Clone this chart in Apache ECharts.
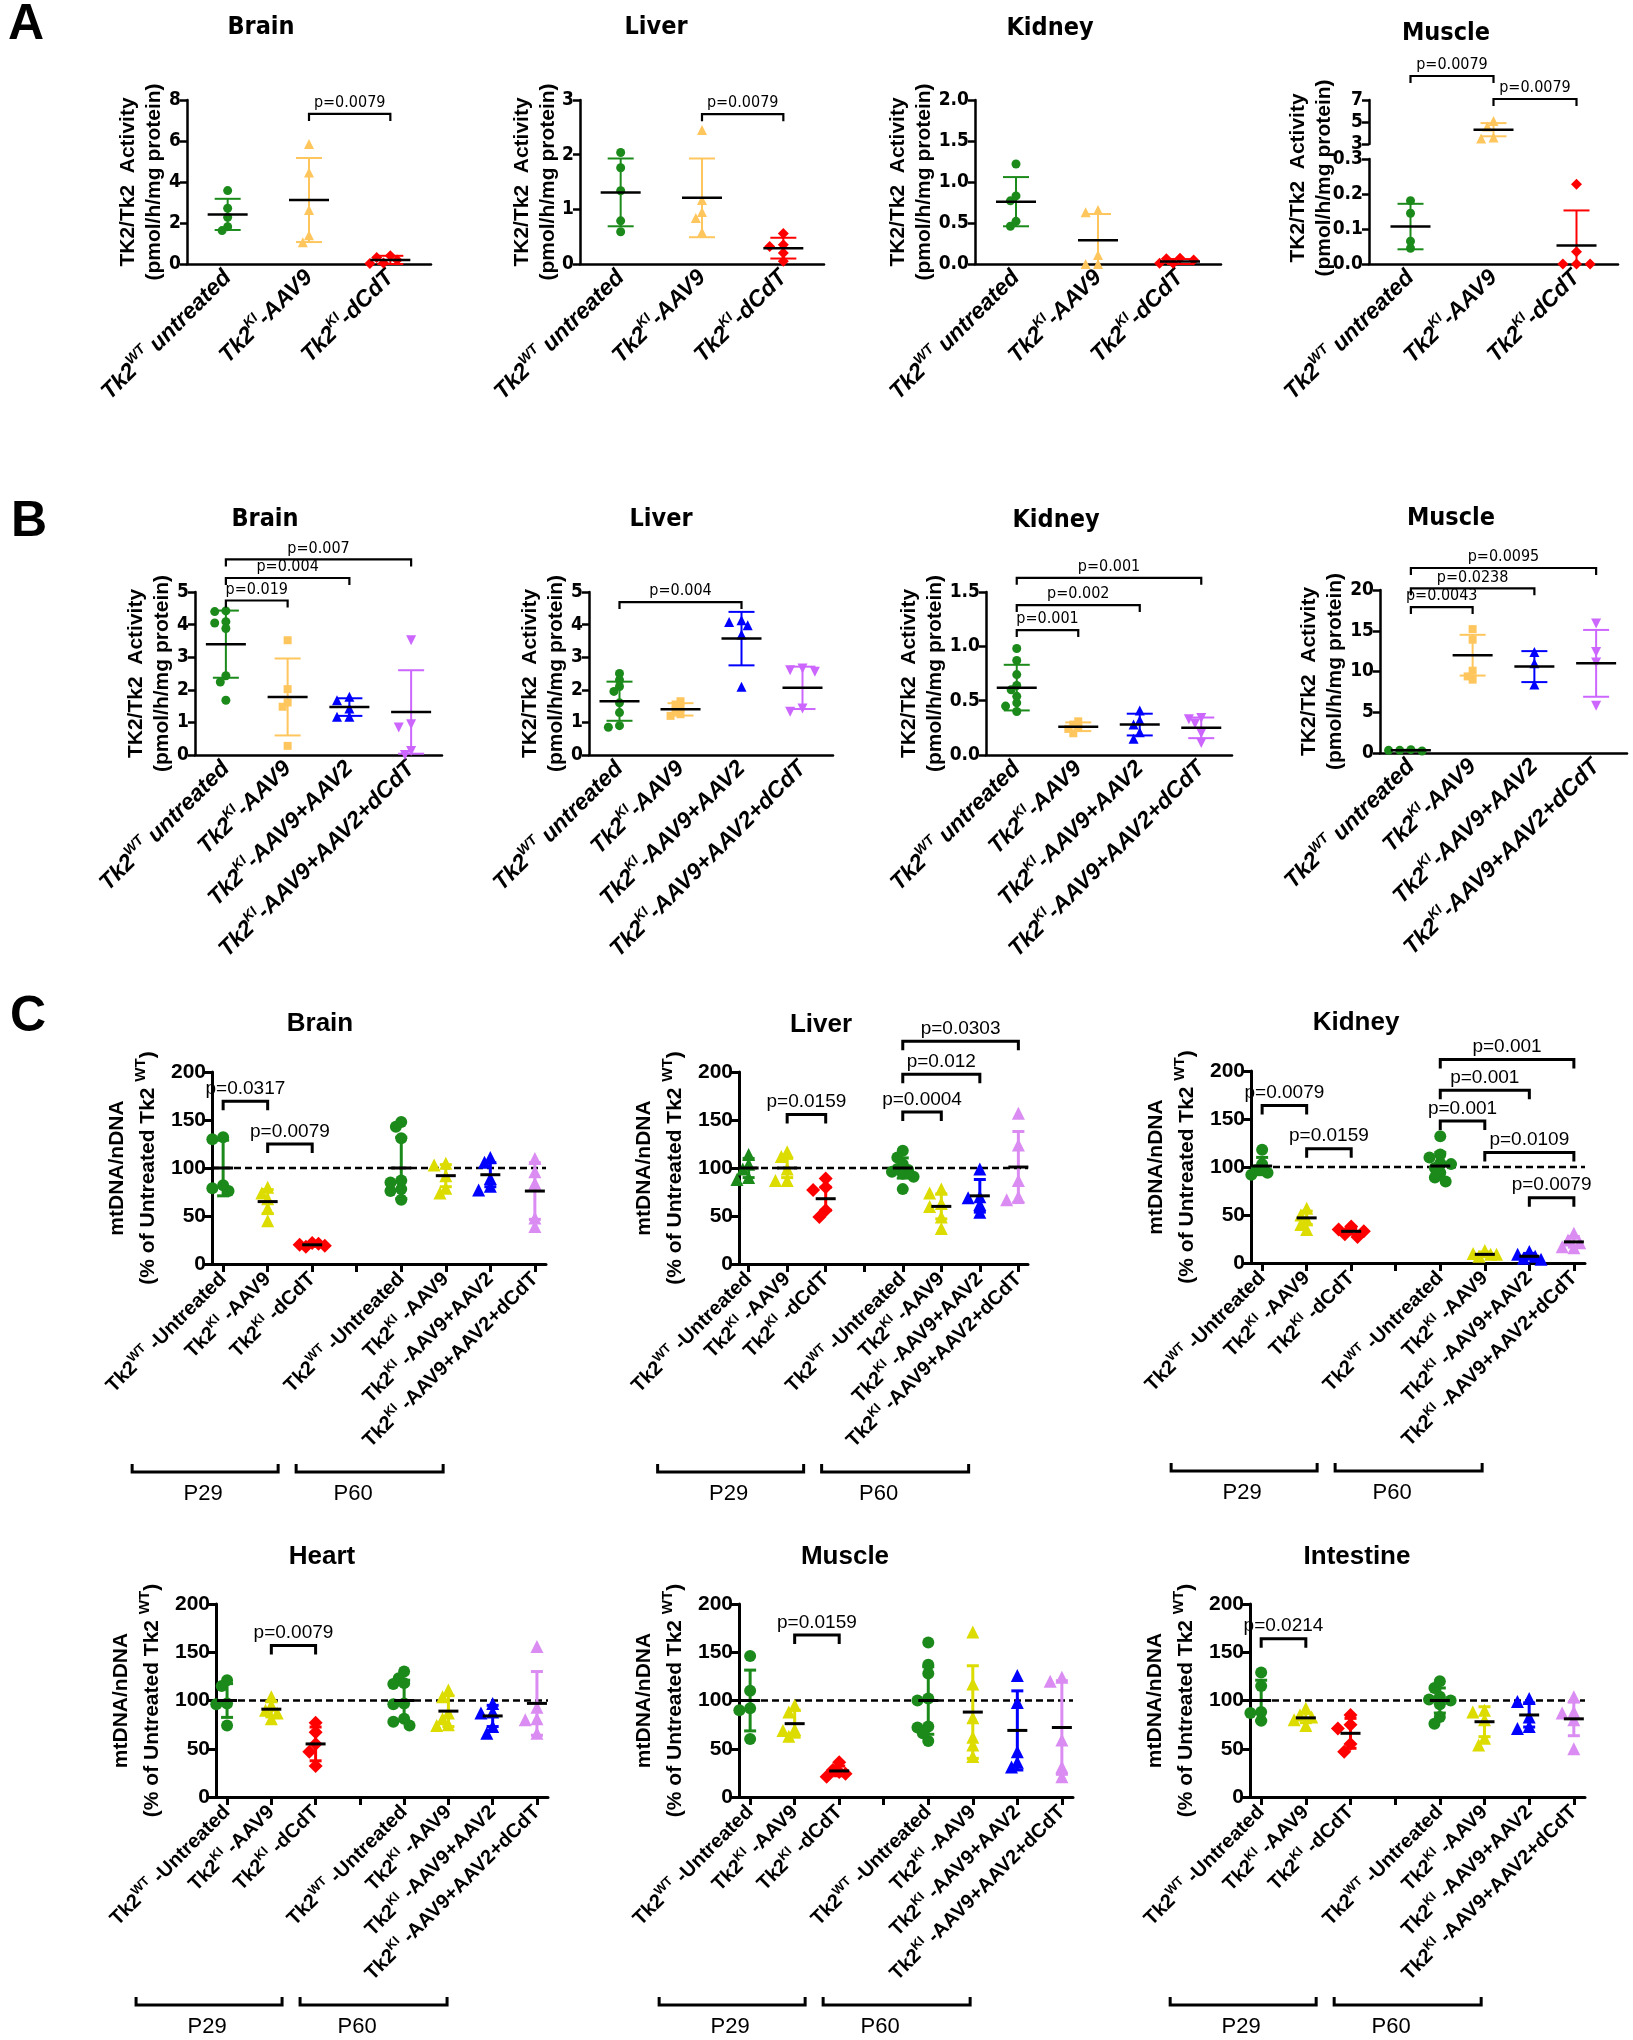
<!DOCTYPE html>
<html><head><meta charset="utf-8">
<script src="https://cdn.jsdelivr.net/npm/echarts@6/dist/echarts.min.js"></script>
<style>html,body{margin:0;padding:0;background:#fff}#c{width:1633px;height:2040px}</style>
</head><body><div id="c"></div>
<script>
// ---------------- DATA ----------------
const catA = [['Tk2','WT',' untreated'],['Tk2','KI','-AAV9'],['Tk2','KI','-dCdT']];
const catB = [['Tk2','WT',' untreated'],['Tk2','KI','-AAV9'],['Tk2','KI','-AAV9+AAV2'],['Tk2','KI','-AAV9+AAV2+dCdT']];
const catC = [['Tk2','WT',' -Untreated'],['Tk2','KI',' -AAV9'],['Tk2','KI',' -dCdT'],null,
              ['Tk2','WT',' -Untreated'],['Tk2','KI',' -AAV9'],['Tk2','KI',' -AAV9+AAV2'],['Tk2','KI',' -AAV9+AAV2+dCdT']];
const titlesA = ['Brain','Liver','Kidney','Muscle'];
const titlesB = ['Brain','Liver','Kidney','Muscle'];
const titlesC = ['Brain','Liver','Kidney','Heart','Muscle','Intestine'];
const panelLetters = ['A','B','C'];
const periodLabels = ['P29','P60'];
const refLevelC = 100;

// Panel A : TK2 activity
const aBrainPts = [[3.58,2.72,2.28,1.82,1.63],[5.85,4.46,2.63,1.40,1.06],[0.40,0.32,0.20,0.05,0.03]];
const aBrainMean = [2.42,3.12,0.20], aBrainSD = [0.76,2.05,0.20];
const aBrainP = [[1,2,7.32,'p=0.0079']];
const aLiverPts = [[2.04,1.76,1.34,0.79,0.59],[2.45,1.17,0.95,0.84,0.58],[0.56,0.35,0.32,0.20,0.05]];
const aLiverMean = [1.31,1.21,0.29], aLiverSD = [0.62,0.72,0.19];
const aLiverP = [[1,2,2.74,'p=0.0079']];
const aKidneyPts = [[1.22,0.83,0.77,0.52,0.46],[0.66,0.63,0.11,0.0,0.0],[0.07,0.065,0.05,0.01,0.01]];
const aKidneyMean = [0.76,0.29,0.03], aKidneySD = [0.30,0.32,0.03];
const aMusclePts = [[0.181,0.145,0.065,0.045],[5.1,4.6,3.6,3.5],[0.228,0.035,0,0,0]];
const aMuscleMean = [0.107,4.3,0.053], aMuscleSD = [0.065,0.6,0.10];
const aMuscleP = [[0,1,9.18,'p=0.0079'],[1,2,7.09,'p=0.0079']];

// Panel B : TK2 activity
const bBrainPts = [[4.42,4.40,4.09,4.05,3.88,2.43,2.24,1.68],[3.52,2.02,1.61,1.48,0.28],[1.79,1.68,1.43,1.17,1.17],[3.52,0.94,0.84,0.12,0.0]];
const bBrainMean = [3.40,1.78,1.47,1.32], bBrainSD = [1.03,1.18,0.27,1.28];
const bBrainP = [[0,1,4.74,'p=0.019'],[0,2,5.43,'p=0.004'],[0,3,6.0,'p=0.007']];
const bLiverPts = [[2.5,2.3,2.1,1.95,1.6,1.3,0.9,0.85],[1.65,1.55,1.45,1.35,1.25,1.2],[4.13,4.08,3.98,3.7,2.09],[2.65,2.6,2.55,1.43,1.33]];
const bLiverMean = [1.65,1.40,3.57,2.06], bLiverSD = [0.60,0.19,0.82,0.65];
const bLiverP = [[0,2,4.69,'p=0.004']];
const bKidneyPts = [[0.98,0.87,0.74,0.64,0.60,0.54,0.48,0.45,0.40],[0.31,0.28,0.25,0.24,0.20],[0.41,0.32,0.28,0.21,0.15],[0.34,0.33,0.29,0.20,0.11]];
const bKidneyMean = [0.62,0.26,0.28,0.25], bKidneySD = [0.21,0.04,0.10,0.095];
const bKidneyP = [[0,1,1.15,'p=0.001'],[0,2,1.38,'p=0.002'],[0,3,1.63,'p=0.001']];
const bMusclePts = [[0.41,0.33,0.25,0.33],[15.2,13.9,10.1,9.4,9.0],[12.4,11.0,8.4],[15.9,12.4,11.1,5.8]];
const bMuscleMean = [0.33,12.0,10.6,11.0], bMuscleSD = [0.07,2.5,1.9,4.1];
const bMuscleP = [[0,1,17.9,'p=0.0043'],[0,2,20.2,'p=0.0238'],[0,3,22.7,'p=0.0095']];

// Panel C : mtDNA / nDNA (% of untreated Tk2 WT)
const cBrainPts = [[132,130,82,79,76],[80,74,68,58,45],[22,20,19,18,21],[],[148,143,131,87,85,78,76,67],[105,103,92,79,74],[111,106,89,81,77],[110,96,84,48,39]];
const cBrainMean = [100,65,20,null,100,92,93,76], cBrainSD = [29,12.5,1.5,null,32,11.5,12.5,29.5];
const cBrainP = [[0,1,169.5,'p=0.0317'],[1,2,125,'p=0.0079']];
const cLiverPts = [[114,104,99,90,88],[117,112,99,87,87],[89,80,77,56,49],[],[118,111,104,99,98,96,94,91,78],[78,74,63,60,49,37],[99,70,69,62,54],[157,124,87,70,67]];
const cLiverMean = [100,100,68,null,100,60,71,101], cLiverSD = [10,10,12,null,10.5,13,17,37];
const cLiverP = [[1,2,155.6,'p=0.0159'],[4,5,158.4,'p=0.0004'],[4,6,197.6,'p=0.012'],[4,7,232,'p=0.0303']];
const cKidneyPts = [[118,103,97,94,92],[57,50,45,40,35],[38,35,33,30,27],[],[132,113,110,104,103,99,94,89,85],[13,10,9,7,9],[12,9,7,5,4],[31,24,21,17,16]];
const cKidneyMean = [101,47,33,null,101,9,7,22], cKidneySD = [9,7,3,null,14,2.5,3,5.5];
const cKidneyP = [[0,1,164,'p=0.0079'],[1,2,119,'p=0.0159'],[4,5,148,'p=0.001'],[4,6,180,'p=0.001'],[4,7,212,'p=0.001'],[5,7,115,'p=0.0109'],[6,7,68,'p=0.0079']];
const cHeartPts = [[121,115,97,96,74],[104,95,90,87,81],[77,67,55,47,32],[],[130,123,118,117,97,96,81,78,74],[111,104,87,81,75,74],[97,88,87,73,66],[156,93,81,80,66]];
const cHeartMean = [100,91,55,null,100,89,84,97], cHeartSD = [17.5,8,17.5,null,21,16,11,33];
const cHeartP = [[1,2,157,'p=0.0079']];
const cMusclePts = [[146,110,92,90,60],[95,88,70,69,63],[36,28,24,21,26],[],[160,137,128,102,100,73,72,66,58],[171,117,82,62,54,42],[126,98,47,36,31],[124,120,59,31,21]];
const cMuscleMean = [100,76,27,null,100,88,69,72], cMuscleSD = [31.5,14,5,null,35,48,41,48.5];
const cMuscleP = [[1,2,168,'p=0.0159']];
const cIntestinePts = [[129,115,88,87,79],[92,85,83,80,74],[85,75,71,55,47],[],[120,113,104,101,100,96,83,76],[90,88,80,61,54],[102,99,83,73,71],[104,88,87,80,50]];
const cIntestineMean = [100,82,66,null,100,78,85,81], cIntestineSD = [21,5,15.5,null,13,15.5,12.5,17.5];
const cIntestineP = [[0,1,164,'p=0.0214']];

// ---------------- STYLE ----------------
const ARIAL = '"Liberation Sans", Arial, Helvetica, sans-serif';
const NARROW = '"Liberation Sans Narrow", "Arial Narrow", "DejaVu Sans Condensed", "Liberation Sans", Arial, sans-serif';
const GR = '#1B8A1B', OR = '#FFC65E', RD = '#FF0000', BL = '#0000FF', VI = '#CC66FF', YC = '#DCDC00', VC = '#DA8CF2';
const stA = [{c:GR,s:'circle',z:9},{c:OR,s:'triangle',z:10},{c:RD,s:'diamond',z:11}];
const stB = [{c:GR,s:'circle',z:9},{c:OR,s:'rect',z:8},{c:BL,s:'triangle',z:10},{c:VI,s:'triangle',z:10,r:180}];
const stC = [{c:GR,s:'circle',z:12},{c:YC,s:'triangle',z:13},{c:RD,s:'diamond',z:14},null,
             {c:GR,s:'circle',z:12},{c:YC,s:'triangle',z:13},{c:BL,s:'triangle',z:13},{c:VC,s:'triangle',z:13}];
const stCliver = stC.map((s,i)=> i===0 ? {c:GR,s:'triangle',z:13} : s);

function richSet(fs, weight, style, family, lh, supScale) {
  lh = lh || Math.round(fs * 1.3);
  return {
    b: {fontSize: fs, fontWeight: weight, fontStyle: style, fontFamily: family, color: '#000', fill:'#000', lineHeight: lh},
    s: {fontSize: Math.round(fs * (supScale || 0.62)), fontWeight: weight, fontStyle: style, fontFamily: family, color: '#000', fill:'#000', verticalAlign: 'top'}
  };
}
function lab(parts) { return parts ? '{b|' + parts[0] + '}{s|' + parts[1] + '}{b|' + parts[2] + '}' : ''; }
const nameAB = '{b|TK2/Tk2  Activity}\n{b|(pmol/h/mg protein)}';
const nameC = '{b|mtDNA/nDNA}\n{b|(% of Untreated Tk2 }{s|WT}{b|)}';

// simple beeswarm-like horizontal dodge of overlapping points (pixel offsets)
function dodge(vals, ppu, size, tight) {
  const step = size * (tight ? 0.45 : 0.62), minD = size * (tight ? 0.58 : 0.72);
  const nC = tight ? 5 : 11;
  const placed = [], offs = [];
  vals.forEach((v, i) => {
    const y = v * ppu;
    let best = 0, bestD = -1;
    for (let k = 0; k < nC; k++) {
      const dx = (k % 2 ? -1 : 1) * Math.ceil(k / 2) * step;
      const d = placed.length ? Math.min(...placed.map(q => Math.hypot(q[0] - dx, q[1] - y))) : Infinity;
      if (d >= minD) { best = dx; bestD = Infinity; break; }
      if (d > bestD) { bestD = d; best = dx; }
    }
    offs[i] = best; placed.push([best, y]);
  });
  return offs;
}

const option = {animation:false, backgroundColor:'#fff', grid:[], xAxis:[], yAxis:[], series:[], graphic:[]};

function addPanel(p) {
  const gi = option.grid.length;
  const C = p.kind === 'C';
  const lw = C ? 3 : 2.5;
  option.grid.push({left:p.left, top:p.top, width:p.width, height:p.height});
  const xRich = C ? richSet(20, 'bold', 'normal', ARIAL, null, 0.66) : richSet(23, 'bold', 'italic', ARIAL);
  const idx = p.cats.map((_, i) => i);
  if (C) {
    option.xAxis.push({type:'value', gridIndex:gi, min:-0.25, max:p.cats.length - 0.75,
      axisLine:{show:true, onZero:false, lineStyle:{color:'#000', width:lw}},
      axisTick:{show:true, customValues:idx, length:8, lineStyle:{color:'#000', width:lw}},
      axisLabel:{show:true, customValues:idx, formatter:v => lab(p.cats[Math.round(v)]), rotate:45, margin:12, rich:xRich},
      splitLine:{show:false}});
  } else {
    option.xAxis.push({type:'category', gridIndex:gi, data:p.cats.map(lab), boundaryGap:true, show:p.showX !== false,
      axisLine:{onZero:false, lineStyle:{color:'#000', width:lw}},
      axisTick:{alignWithLabel:true, length:7, lineStyle:{color:'#000', width:lw}},
      axisLabel:{interval:0, rotate:45, margin:10, rich:xRich}});
  }
  const y = {type:'value', gridIndex:gi, min:p.ymin, max:p.ymax,
    axisLine:{show:true, onZero:false, lineStyle:{color:'#000', width:lw}},
    axisTick:{show:true, length:C ? 8 : 7, lineStyle:{color:'#000', width:lw}},
    axisLabel:{color:'#000', margin:6, fontWeight:'bold', fontSize:C ? 21 : 19, fontFamily:C ? ARIAL : NARROW,
               formatter:p.yfmt || (v => String(v))},
    splitLine:{show:false}};
  if (p.yint != null) y.interval = p.yint;
  if (p.yTicks) { y.axisTick.customValues = p.yTicks; y.axisLabel.customValues = p.yTicks; }
  if (p.yName) {
    y.name = p.yName; y.nameLocation = 'middle'; y.nameRotate = 90; y.nameGap = p.nameGap;
    y.nameTextStyle = {rich: C ? richSet(21, 'bold', 'normal', ARIAL, 31, 0.7) : richSet(21, 'bold', 'normal', ARIAL, 26)};
  }
  option.yAxis.push(y);

  const inR = v => v != null && v >= p.ymin - 1e-9 && v <= p.ymax + 1e-9;
  const ppu = p.height / (p.ymax - p.ymin);
  p.pts.forEach((vals, k) => {
    const st = p.styles[k];
    if (!st || !vals) return;
    const vv = vals.filter(inR);
    if (!vv.length) return;
    const offs = dodge(vv, ppu, st.z, C);
    option.series.push({type:'scatter', xAxisIndex:gi, yAxisIndex:gi, clip:false, z:3,
      symbol:st.s, symbolSize:st.z, symbolRotate:st.r || 0, itemStyle:{color:st.c, opacity:1},
      data:vv.map((v, j) => ({value:[k, v], symbolOffset:[offs[j], 0]}))});
  });

  const eb = [];
  p.mean.forEach((m, k) => { if (inR(m)) eb.push([k, m, p.sd[k]]); });
  option.series.push({type:'custom', xAxisIndex:gi, yAxisIndex:gi, clip:false, z:4, data:eb,
    renderItem:(params, api) => {
      const k = api.value(0), m = api.value(1), sd = api.value(2);
      const col = p.styles[k].c;
      const c = api.coord([k, m]);
      const hiV = m + sd, loV = m - sd;
      const hi = api.coord([k, Math.min(hiV, p.ymax)]);
      const lo = api.coord([k, Math.max(loV, p.ymin)]);
      const mw = C ? 10 : 20, cw = C ? 6 : 13, w = C ? 3 : 2;
      const ch = [{type:'line', shape:{x1:c[0], y1:hi[1], x2:c[0], y2:lo[1]}, style:{stroke:col, lineWidth:w}}];
      if (hiV <= p.ymax) ch.push({type:'line', shape:{x1:c[0]-cw, y1:hi[1], x2:c[0]+cw, y2:hi[1]}, style:{stroke:col, lineWidth:w}});
      if (loV >= p.ymin) ch.push({type:'line', shape:{x1:c[0]-cw, y1:lo[1], x2:c[0]+cw, y2:lo[1]}, style:{stroke:col, lineWidth:w}});
      ch.push({type:'line', shape:{x1:c[0]-mw, y1:c[1], x2:c[0]+mw, y2:c[1]}, style:{stroke:'#000', lineWidth:C ? 3 : 2.5}});
      return {type:'group', children:ch};
    }});

  if (p.pv && p.pv.length) option.series.push({type:'custom', xAxisIndex:gi, yAxisIndex:gi, clip:false, z:5,
    data:p.pv.map(q => [q[0], q[1], q[2]]),
    renderItem:(params, api) => {
      const a = api.coord([api.value(0), api.value(2)]), b = api.coord([api.value(1), api.value(2)]);
      const leg = C ? 9 : 7;
      return {type:'group', children:[
        {type:'polyline', shape:{points:[[a[0], a[1]+leg],[a[0], a[1]],[b[0], b[1]],[b[0], b[1]+leg]]},
         style:{stroke:'#000', lineWidth:C ? 3 : 2.2, fill:null}},
        {type:'text', style:{text:p.pv[params.dataIndex][3], x:(a[0]+b[0])/2, y:a[1]-3, align:'center', verticalAlign:'bottom',
         font:C ? '19px ' + ARIAL : '16px ' + NARROW, fill:'#000'}}]};
    }});

  if (p.refLine != null) option.series.push({type:'line', xAxisIndex:gi, yAxisIndex:gi, z:2, symbol:'none', silent:true,
    data:[[-0.25, p.refLine],[p.cats.length - 0.75, p.refLine]], lineStyle:{color:'#000', width:2.5, type:[7,4]}});

  if (p.periods) option.series.push({type:'custom', xAxisIndex:gi, yAxisIndex:gi, clip:false, z:5, data:[[0, p.ymin]],
    renderItem:(params, api) => {
      const o = api.coord([0, p.ymin]);
      const yb = o[1] + 208;
      const mk = (x1, x2) => ({type:'polyline', shape:{points:[[x1, yb-8],[x1, yb],[x2, yb],[x2, yb-8]]}, style:{stroke:'#000', lineWidth:3, fill:null}});
      const tx = (t, x) => ({type:'text', style:{text:t, x:x, y:yb+22, align:'center', verticalAlign:'middle', font:'22px ' + ARIAL, fill:'#000'}});
      return {type:'group', children:[mk(o[0]-91, o[0]+55), mk(o[0]+73, o[0]+220), tx(periodLabels[0], o[0]-20), tx(periodLabels[1], o[0]+130)]};
    }});
}

const f1 = v => v.toFixed(1);
// Panel A
addPanel({kind:'A', left:187, top:100, width:244, height:164, cats:catA, ymin:0, ymax:8, yint:2, pts:aBrainPts, mean:aBrainMean, sd:aBrainSD, pv:aBrainP, styles:stA, yName:nameAB, nameGap:20});
addPanel({kind:'A', left:580, top:100, width:244, height:164, cats:catA, ymin:0, ymax:3, yint:1, pts:aLiverPts, mean:aLiverMean, sd:aLiverSD, pv:aLiverP, styles:stA, yName:nameAB, nameGap:19});
addPanel({kind:'A', left:975, top:100, width:246, height:164, cats:catA, ymin:0, ymax:2, yint:0.5, yfmt:f1, pts:aKidneyPts, mean:aKidneyMean, sd:aKidneySD, styles:stA, yName:nameAB, nameGap:31});
addPanel({kind:'A', left:1369, top:100, width:249, height:44, cats:catA, ymin:3, ymax:7, yTicks:[3,5,7], showX:false, pts:aMusclePts, mean:aMuscleMean, sd:aMuscleSD, pv:aMuscleP, styles:stA});
addPanel({kind:'A', left:1369, top:159, width:249, height:105, cats:catA, ymin:0, ymax:0.3, yint:0.1, yfmt:f1, pts:aMusclePts, mean:aMuscleMean, sd:aMuscleSD, styles:stA});
// Panel B
addPanel({kind:'B', left:195, top:592, width:247, height:163, cats:catB, ymin:0, ymax:5, yint:1, pts:bBrainPts, mean:bBrainMean, sd:bBrainSD, pv:bBrainP, styles:stB, yName:nameAB, nameGap:20});
addPanel({kind:'B', left:589, top:592, width:244, height:163, cats:catB, ymin:0, ymax:5, yint:1, pts:bLiverPts, mean:bLiverMean, sd:bLiverSD, pv:bLiverP, styles:stB, yName:nameAB, nameGap:20});
addPanel({kind:'B', left:986, top:592, width:246, height:163, cats:catB, ymin:0, ymax:1.5, yint:0.5, yfmt:f1, pts:bKidneyPts, mean:bKidneyMean, sd:bKidneySD, pv:bKidneyP, styles:stB, yName:nameAB, nameGap:37});
addPanel({kind:'B', left:1380, top:590, width:247, height:163, cats:catB, ymin:0, ymax:20, yint:5, pts:bMusclePts, mean:bMuscleMean, sd:bMuscleSD, pv:bMuscleP, styles:stB, yName:nameAB, nameGap:32});
// Panel C
const cBase = {kind:'C', cats:catC, ymin:0, ymax:200, yint:50, refLine:refLevelC, periods:true, yName:nameC, nameGap:48};
addPanel(Object.assign({}, cBase, {left:212, top:1072, width:334, height:192, pts:cBrainPts, mean:cBrainMean, sd:cBrainSD, pv:cBrainP, styles:stC}));
addPanel(Object.assign({}, cBase, {left:739, top:1072, width:289, height:192, pts:cLiverPts, mean:cLiverMean, sd:cLiverSD, pv:cLiverP, styles:stCliver}));
addPanel(Object.assign({}, cBase, {left:1251, top:1071, width:334, height:192, pts:cKidneyPts, mean:cKidneyMean, sd:cKidneySD, pv:cKidneyP, styles:stC}));
addPanel(Object.assign({}, cBase, {left:216, top:1604, width:332, height:193, pts:cHeartPts, mean:cHeartMean, sd:cHeartSD, pv:cHeartP, styles:stC}));
addPanel(Object.assign({}, cBase, {left:739, top:1604, width:334, height:193, pts:cMusclePts, mean:cMuscleMean, sd:cMuscleSD, pv:cMuscleP, styles:stC}));
addPanel(Object.assign({}, cBase, {left:1250, top:1604, width:335, height:193, pts:cIntestinePts, mean:cIntestineMean, sd:cIntestineSD, pv:cIntestineP, styles:stC}));

// Titles and panel letters
function txt(t, x, y, font, extra) {
  return Object.assign({type:'text', x:x, y:y, style:{text:t, font:font, fill:'#000', align:'center', verticalAlign:'middle'}}, extra || {});
}
const fTitleAB = 'bold 25px ' + NARROW, fTitleC = 'bold 26px ' + ARIAL, fLetter = 'bold 50px ' + ARIAL;
[[261,27],[656,27],[1050,28],[1446,33]].forEach((q, i) => option.graphic.push(txt(titlesA[i], q[0], q[1], fTitleAB)));
[[265,519],[661,519],[1056,520],[1451,518]].forEach((q, i) => option.graphic.push(txt(titlesB[i], q[0], q[1], fTitleAB)));
[[320,1024],[821,1025],[1356,1023],[322,1557],[845,1557],[1357,1557]].forEach((q, i) => option.graphic.push(txt(titlesC[i], q[0], q[1], fTitleC)));
[[26,25],[29,522],[28,1017]].forEach((q, i) => option.graphic.push(txt(panelLetters[i], q[0], q[1], fLetter)));
// y-axis title of the broken-axis Muscle panel (spans both segments)
option.graphic.push({type:'text', x:1311, y:178, rotation:Math.PI/2,
  style:{text:nameAB, rich:richSet(21, 'bold', 'normal', ARIAL, 26), align:'center', verticalAlign:'middle', fill:'#000'}});

const chart = echarts.init(document.getElementById('c'), null, {renderer:'canvas'});
chart.setOption(option);
</script></body></html>
